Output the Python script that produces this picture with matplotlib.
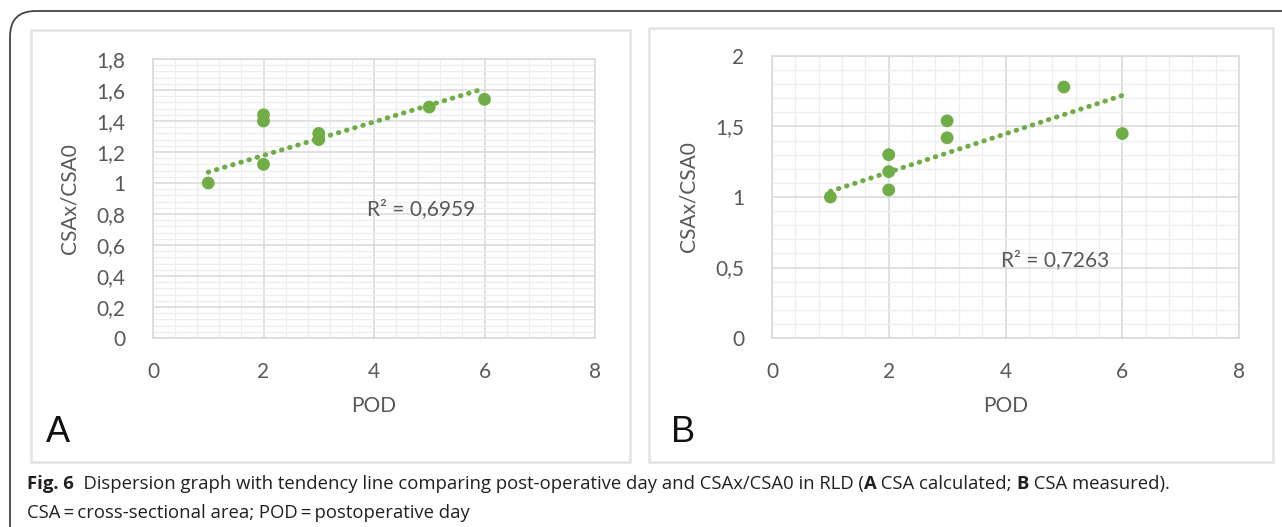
import matplotlib
matplotlib.use("Agg")
import matplotlib.pyplot as plt
from matplotlib.patches import FancyBboxPatch, Rectangle
from matplotlib.ticker import MultipleLocator, FuncFormatter

# data
pod = [1, 2, 2, 2, 3, 3, 5, 6]
ratio_a = [1.00, 1.44, 1.40, 1.12, 1.32, 1.28, 1.49, 1.54]
ratio_b = [1.00, 1.30, 1.18, 1.05, 1.54, 1.42, 1.78, 1.45]
trend_x = [1, 6]
trend_a = [1.07, 1.61]
trend_b = [1.04, 1.72]
r2_labels = ["R² = 0,6959", "R² = 0,7263"]
panel_letters = ["A", "B"]

green = "#70ad47"
txt = "#595959"
grid_major = "#d9d9d9"
grid_minor = "#eceff2"
chart_font = "Lato"

W, H = 1282, 527
fig = plt.figure(figsize=(W / 100, H / 100), dpi=100)


def fx(px):
    return px / W


def fy(py):
    return 1 - py / H


# outer frame with rounded top-left corner
fig.patches.append(FancyBboxPatch((fx(10), fy(560)), fx(1400), fy(11) - fy(560),
                                  boxstyle="round,pad=0,rounding_size=0.02",
                                  transform=fig.transFigure, fill=False,
                                  edgecolor="#444444", linewidth=1.3,
                                  mutation_aspect=W / H))

# light panel boxes
for x0, y0, x1, y1 in [(31, 30, 630, 462), (649, 28, 1273, 462)]:
    fig.patches.append(Rectangle((fx(x0), fy(y1)), fx(x1 - x0), fy(y0) - fy(y1),
                                 transform=fig.transFigure, fill=False,
                                 edgecolor="#e3e3e3", linewidth=1.8))

axA = fig.add_axes([fx(153), fy(338), fx(595 - 153), fy(59) - fy(338)])
axB = fig.add_axes([fx(772), fy(338), fx(1239 - 772), fy(56) - fy(338)])

comma = FuncFormatter(lambda v, p: ("%g" % round(v, 2)).replace(".", ","))

setups = [
    (axA, ratio_a, trend_a, 1.8, 0.2, 0.04, r2_labels[0], (4.85, 0.83)),
    (axB, ratio_b, trend_b, 2.0, 0.5, 0.1, r2_labels[1], (4.85, 0.55)),
]
for ax, vals, tr, ymax, ymaj, ymin, r2, r2pos in setups:
    ax.set_xlim(0, 8)
    ax.set_ylim(0, ymax)
    ax.xaxis.set_major_locator(MultipleLocator(2))
    ax.xaxis.set_minor_locator(MultipleLocator(0.4))
    ax.yaxis.set_major_locator(MultipleLocator(ymaj))
    ax.yaxis.set_minor_locator(MultipleLocator(ymin))
    ax.yaxis.set_major_formatter(comma)
    ax.grid(which="minor", color=grid_minor, linewidth=0.9)
    ax.grid(which="major", color=grid_major, linewidth=1.1)
    ax.set_axisbelow(True)
    for s in ax.spines.values():
        s.set_color(grid_major)
        s.set_linewidth(1.1)
    ax.tick_params(which="both", length=0, labelsize=15, labelcolor=txt, pad=20)
    ax.tick_params(axis="x", pad=17)
    for lab in ax.get_xticklabels() + ax.get_yticklabels():
        lab.set_family(chart_font)

    ax.plot(trend_x, tr, linestyle=(0, (0.1, 1.6)), color=green,
            linewidth=3.6, dash_capstyle="round", zorder=3)
    ax.scatter(pod, vals, s=85, color=green, edgecolors="none", zorder=4)
    ax.text(r2pos[0], r2pos[1], r2, ha="center", va="center", fontsize=15,
            color=txt, family=chart_font)
    ax.set_xlabel("POD", fontsize=15, color=txt, family=chart_font, labelpad=10)
    ax.set_ylabel("CSAx/CSA0", fontsize=15, color=txt, family=chart_font, labelpad=12)

fig.text(fx(58), fy(433), panel_letters[0], fontsize=26, ha="center", va="center",
         color="#111111", family="Liberation Sans")
fig.text(fx(683), fy(433), panel_letters[1], fontsize=26, ha="center", va="center",
         color="#111111", family="Liberation Sans")

# caption with bold pieces
cap_font = "Open Sans"
cap_size = 13.3
renderer = fig.canvas.get_renderer()


def run(parts, x, y):
    for s, bold in parts:
        t = fig.text(x, y, s, fontsize=cap_size, family=cap_font, color="#231f20",
                     fontweight="bold" if bold else "normal", va="baseline")
        bb = t.get_window_extent(renderer)
        x += bb.width / W


run([("Fig. 6", True),
     ("  Dispersion graph with tendency line comparing post-operative day and CSAx/CSA0 in RLD (", False),
     ("A", True), (" CSA calculated; ", False), ("B", True), (" CSA measured).", False)],
    fx(27), fy(489))
run([("CSA\u2009=\u2009cross-sectional area; POD\u2009=\u2009postoperative day", False)],
    fx(27), fy(518))

fig.savefig("out.png", dpi=100)
